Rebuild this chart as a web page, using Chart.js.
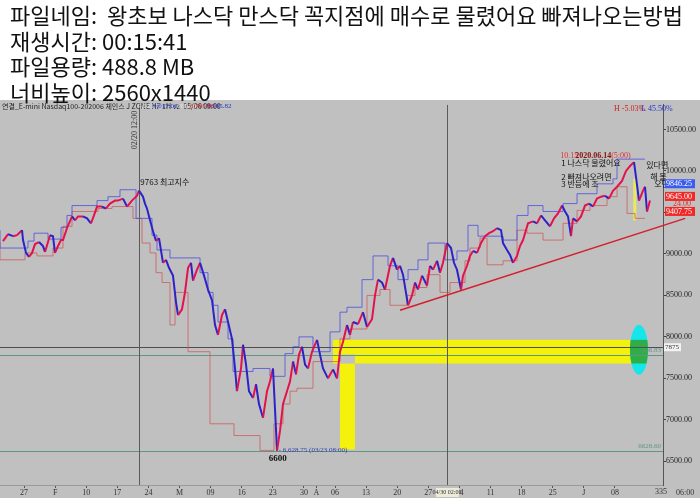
<!DOCTYPE html>
<html>
<head>
<meta charset="utf-8">
<script src="https://cdn.jsdelivr.net/npm/chart.js@4.4.1/dist/chart.umd.min.js"></script>
<style>
  html, body { margin: 0; padding: 0; background: #fff; }
  body { width: 700px; height: 501px; position: relative; overflow: hidden; }
  #info { position: absolute; left: 10px; top: 2px; z-index: 2; font-family: "Noto Sans CJK KR", sans-serif; font-size: 22px;
          line-height: 25.7px; color: #111; white-space: nowrap; }
  #wrap { position: absolute; left: 0; top: 100px; width: 700px; height: 398px; background: #c0c0c0; }
</style>
</head>
<body>
<div id="info">
  <div>파일네임:&nbsp; 왕초보 나스닥 만스닥 꼭지점에 매수로 물렸어요 빠져나오는방법</div>
  <div>재생시간: 00:15:41</div>
  <div>파일용량: 488.8 MB</div>
  <div>너비높이: 2560x1440</div>
</div>
<div id="wrap"><canvas id="chart"></canvas></div>
<script>
// trading days counted from Mon 27 Jan 2020 (1H chart)
const tradingDay = [-3.38,-2.57,-1.77,-1.13,-0.32,-0.16,0.32,0.80,1.29,1.77,
  2.41,3.05,3.38,4.18,4.66,4.98,5.47,5.95,6.27,6.91,
  7.72,8.20,8.68,9.49,10.13,10.77,11.25,11.74,12.54,13.18,
  13.83,14.63,15.11,15.92,16.56,17.36,18.17,18.49,19.13,19.45,
  19.77,20.26,20.74,21.22,21.70,22.35,22.83,23.31,23.95,24.44,
  24.76,25.40,25.88,26.37,26.85,27.17,27.81,28.30,28.94,29.58,
  30.23,30.71,31.19,31.83,32.32,32.80,33.44,33.92,34.24,34.89,
  35.21,35.69,36.17,36.82,37.30,37.78,38.42,39.07,39.55,40.03,
  40.68,41.16,41.64,42.28,42.77,43.25,43.73,44.21,44.69,45.18,
  45.66,46.30,47.11,47.59,48.07,48.87,49.68,50.32,50.80,51.29,
  51.93,52.41,52.89,53.70,54.50,55.14,55.95,56.43,56.91,57.56,
  58.04,58.84,59.32,59.97,60.45,60.93,61.74,62.38,62.86,63.34,
  63.99,64.79,65.27,65.76,66.40,66.88,67.36,68.01,68.65,69.13,
  69.61,70.26,70.58,71.22,71.70,72.19,72.83,73.47,74.12,74.76,
  75.40,76.05,76.69,77.01,77.65,78.14,78.62,79.26,79.74,80.23,
  81.03,81.83,82.48,83.12,83.76,84.57,85.21,85.85,86.50,86.98,
  87.46,87.94,88.26,88.91,89.55,90.19,90.84,91.48,92.12,92.77,
  93.41,94.05,94.69,95.34,96.14,96.78,97.43,98.07,98.39,98.87,
  99.52,99.84,100.16,100.64];
const price = [9155,9238,9214,9226,9286,9167,9012,8964,9012,9119,
  9143,9095,9024,9226,9214,9012,9095,9167,9167,9310,
  9452,9405,9452,9452,9429,9369,9464,9571,9571,9548,
  9607,9643,9643,9667,9571,9643,9702,9763,9690,9607,
  9548,9405,9274,9155,9190,8893,8929,8833,8738,8417,
  8262,8333,8536,8833,8893,8679,8810,8893,8738,8571,
  8440,8143,8024,8262,8333,8179,7976,7619,7345,7619,
  7905,7667,7345,7262,7429,7190,7024,7345,7464,7619,
  6628.75,6869,7190,7345,7464,7702,7548,7786,7881,7667,
  7619,7821,7964,7786,7619,7500,7607,7500,7821,7940,
  8143,8024,8179,8155,8298,8119,8214,8500,8690,8655,
  8571,8857,8952,8810,8857,8750,8381,8500,8655,8571,
  8738,8619,8857,8810,8917,8774,8893,9131,9071,8893,
  8810,8571,8738,8857,8976,9036,9012,9131,9214,9250,
  9274,9310,9286,9131,9048,8988,8893,8976,9095,9167,
  9369,9393,9369,9464,9405,9333,9429,9488,9583,9512,
  9452,9214,9429,9393,9452,9583,9607,9571,9667,9690,
  9702,9667,9762,9810,9881,10000,10060,10107,9929,9643,
  9762,9810,9512,9643];

// step channel above / below price
const upperDay = [-3.86,0.64,1.61,3.86,5.95,6.91,7.72,11.74,13.50,15.43,18.01,20.58,21.38,23.47,28.30,29.58,30.39,31.19,32.80,33.60,
  36.82,39.55,41.96,43.25,44.21,46.46,49.20,50.80,51.93,54.34,56.11,58.52,60.13,61.74,63.34,64.95,67.68,69.61,71.38,72.99,
  77.01,79.26,81.03,83.44,86.66,88.91,92.12,94.69,95.34,96.30,99.84];
const upperBand = [9286,9071,9155,9250,9179,9321,9464,9583,9643,9690,9774,9429,9226,9048,8952,8774,8536,8381,8179,7976,
  7583,7619,7524,7798,7881,8000,7821,8060,8298,8357,8690,8976,8857,8690,8810,8929,9131,8929,9036,9345,
  9214,9167,9464,9583,9512,9607,9726,9845,9905,10143,10143];
const lowerDay = [-3.86,0.16,2.09,4.66,6.27,7.72,11.90,14.15,17.52,18.97,20.26,21.22,22.19,23.47,24.28,26.37,29.90,33.76,37.94,40.19,
  41.64,42.77,43.89,46.46,50.80,52.41,55.14,57.23,58.84,61.58,62.86,64.79,66.88,68.49,70.90,71.70,73.31,74.44,77.01,79.26,
  80.87,83.44,86.66,88.91,91.00,93.73,95.34,96.95,98.23,99.84];
const lowerBand = [9143,8929,9012,8976,9071,9333,9512,9548,9571,9429,9131,9012,8774,8655,8143,8536,7821,6952,6810,6631,
  6952,7190,7345,7381,7702,7976,8095,8500,8571,8381,8500,8595,8750,8536,8655,8917,9071,9190,8869,8917,
  9286,9250,9167,9369,9524,9583,9690,9810,9488,9429];

// hand-drawn support line and levels
const trendDay = [60.45, 106.3];
const trendPrice = [8321, 9429];
const levelPrice = [7875, 7786.83, 6628.6];
const zoneDay = [49.68, 97.75], zonePrice = [7679, 7964];
const pillarDay = [50.8, 53.2], pillarPrice = [6643, 7679];
const cursorDay = [18.5, 68.0];

// axis
const tickDay = [0,5,10,15,20,25,30,35,40,45,47,50,55,60,65,70,75,80,85,90,95];
const tickLabel = ['27','F','10','17','24','M','09','16','23','30','A','06','13','20','27','04','11','18','25','J','08'];
const priceTicks = [6500,7000,7500,8000,8500,9000,9500,10000,10500];

const UP = '#e3124e', DOWN = '#2c22c8';
const SERIF = '"Liberation Serif", serif';
const KR = '"Noto Sans CJK KR", sans-serif';

function pts(xs, ys) { return xs.map((v, i) => ({ x: v, y: ys[i] })); }

const marks = {
  id: 'marks',
  beforeDatasetsDraw(chart) {
    const { ctx, chartArea: a, scales: { x, y } } = chart;
    const X = v => x.getPixelForValue(v), Y = v => y.getPixelForValue(v);
    ctx.save();
    ctx.beginPath(); ctx.rect(a.left, a.top, a.right - a.left, a.bottom - a.top); ctx.clip();
    // yellow zone + pillar
    ctx.fillStyle = '#f4f20c';
    ctx.fillRect(X(zoneDay[0]), Y(zonePrice[1]), X(zoneDay[1]) - X(zoneDay[0]), Y(zonePrice[0]) - Y(zonePrice[1]));
    ctx.fillRect(X(pillarDay[0]), Y(pillarPrice[1]), X(pillarDay[1]) - X(pillarDay[0]), Y(pillarPrice[0]) - Y(pillarPrice[1]));
    ctx.fillStyle = '#c0c0c0';
    ctx.fillRect(X(pillarDay[0]), Y(levelPrice[1]), X(pillarDay[1]) - X(pillarDay[0]), Y(zonePrice[0]) - Y(levelPrice[1]));
    // cyan ellipse at zone end, green where it meets the zone
    const ex = X(98.87), ey = Y(7845);
    ctx.beginPath(); ctx.ellipse(ex, ey, 9, 25, 0, 0, Math.PI * 2);
    ctx.fillStyle = '#14e6ec'; ctx.fill();
    ctx.save(); ctx.clip();
    ctx.fillStyle = '#2fae48';
    ctx.fillRect(ex - 10, Y(zonePrice[1]), 20, Y(zonePrice[0]) - Y(zonePrice[1]));
    ctx.restore();
    // horizontal levels
    const lc = ['#4e4e4e', '#5f9684', '#5f9684'];
    levelPrice.forEach((p, i) => {
      ctx.strokeStyle = lc[i]; ctx.lineWidth = 1;
      ctx.beginPath(); ctx.moveTo(a.left, Math.round(Y(p)) + 0.5); ctx.lineTo(a.right, Math.round(Y(p)) + 0.5); ctx.stroke();
    });
    // cursor lines
    ctx.strokeStyle = '#5a5a5a';
    cursorDay.forEach(d => {
      ctx.beginPath(); ctx.moveTo(Math.round(X(d)) + 0.5, a.top); ctx.lineTo(Math.round(X(d)) + 0.5, a.bottom); ctx.stroke();
    });
    // thin yellow marker near the top
    ctx.fillStyle = '#eaea58';
    ctx.fillRect(X(98.2) - 1.5, Y(9905), 3, Y(9405) - Y(9905));
    ctx.restore();
  },
  afterDraw(chart) {
    const { ctx, chartArea: a, scales: { x, y } } = chart;
    const X = v => x.getPixelForValue(v), Y = v => y.getPixelForValue(v);
    ctx.save();
    ctx.textBaseline = 'middle';
    // header strip
    ctx.font = '7px ' + KR; ctx.fillStyle = '#222'; ctx.textAlign = 'left';
    ctx.fillText('연결_E-mini Nasdaq100-202006 체인스 J ZONE HF 1H v2  05/06 09:00', 2, 6);
    ctx.font = '7px ' + SERIF;
    ctx.fillStyle = '#e4e4e4'; ctx.fillText('9,021.75', 138, 6); ctx.fillText('8,785.00', 172, 6);
    ctx.fillStyle = '#2233cc'; ctx.fillText('9,017.00', 153, 6); ctx.fillText('8,985.82', 207, 6);
    ctx.fillStyle = '#d02020'; ctx.fillText('8,795.00', 190, 6);
    ctx.font = '8px ' + SERIF;
    ctx.fillStyle = '#d02020'; ctx.fillText('H -5.03%', 614, 9);
    ctx.fillStyle = '#2233cc'; ctx.fillText('L 45.50%', 641, 9);
    // rotated cursor time
    ctx.save(); ctx.translate(X(cursorDay[0]) - 4, 30); ctx.rotate(-Math.PI / 2);
    ctx.font = '8px ' + SERIF; ctx.fillStyle = '#333'; ctx.textAlign = 'center';
    ctx.fillText('02/20 12:00', 0, 0); ctx.restore();
    // peak / low notes
    ctx.font = '8px ' + KR; ctx.fillStyle = '#111'; ctx.textAlign = 'left';
    ctx.fillText('9763 최고지수', X(18.7), Y(9870));
    ctx.font = 'bold 9px ' + SERIF; ctx.textAlign = 'center';
    ctx.fillText('6600', X(40.8), Y(6535));
    ctx.font = '7px ' + SERIF; ctx.fillStyle = '#3540b0'; ctx.textAlign = 'left';
    ctx.fillText('- 6,628.75 (03/23 08:00)', X(40.95), Y(6628.75));
    // level captions
    ctx.textAlign = 'right'; ctx.fillStyle = '#5f9684';
    ctx.fillText('7786.83', a.right - 2, Y(7786.83) - 4);
    ctx.fillText('6628.60', a.right - 2, Y(6628.6) - 4);
    ctx.textAlign = 'left'; ctx.fillStyle = '#f2f2f2';
    ctx.fillRect(a.right + 1, Y(7875) - 4, 17, 8);
    ctx.fillStyle = '#333'; ctx.fillText('7875', a.right + 2, Y(7875));
    // top-right note
    const nx = X(86.2), ny = Y(10179);
    ctx.font = '8px ' + SERIF; ctx.fillStyle = '#e03030'; ctx.fillText('10.15', nx, ny);
    ctx.font = 'bold 8px ' + SERIF; ctx.fillStyle = '#8a1010'; ctx.fillText('2020.06.14', nx + 15, ny);
    ctx.font = '8px ' + SERIF; ctx.fillStyle = '#e03030'; ctx.fillText('(5:00)', nx + 51, ny);
    ctx.font = '8px ' + KR; ctx.fillStyle = '#111';
    ctx.fillText('1 나스닥 물렸어요', nx + 1, ny + 7);
    ctx.fillText('있다면', nx + 86, ny + 9);
    ctx.fillText('2 빠져나오려면', nx + 1, ny + 21);
    ctx.fillText('해 볼', nx + 90, ny + 21);
    ctx.fillText('3 반등에 조', nx + 1, ny + 28);
    ctx.fillText('오면', nx + 94, ny + 28);
    // price flags on the axis
    const fx = a.right + 2;
    function flag(txt, cy, bg) {
      ctx.fillStyle = bg; ctx.fillRect(fx, cy - 4.5, 30, 9);
      ctx.fillStyle = '#fff'; ctx.fillText(txt, fx + 1, cy);
    }
    ctx.font = '8px ' + SERIF; ctx.textAlign = 'left';
    flag('9846.25', Y(9846.25), '#3a5cf0');
    const c2 = Y(9645) - 4;
    flag('9645.00', c2, '#f02828');
    ctx.fillStyle = '#e03030'; ctx.fillText('24.00', fx + 8, c2 + 7);
    flag('9407.75', c2 + 15, '#f02828');
    // bottom corner + cursor date
    ctx.fillStyle = '#333'; ctx.font = '8px ' + SERIF; ctx.textAlign = 'center';
    ctx.fillText('335', a.right - 2, a.bottom + 7);
    ctx.textAlign = 'left';
    ctx.fillText('06:00', a.right + 13, a.bottom + 8);
    ctx.fillStyle = '#ecebd8'; ctx.fillRect(X(cursorDay[1]) - 11, a.bottom + 3, 23, 9);
    ctx.fillStyle = '#333'; ctx.font = '6px ' + SERIF; ctx.textAlign = 'center';
    ctx.fillText('04/30 02:00', X(cursorDay[1]), a.bottom + 7.5);
    ctx.restore();
  }
};

new Chart(document.getElementById('chart'), {
  type: 'line',
  data: {
    datasets: [
      {
        label: 'Nasdaq100 1H',
        data: pts(tradingDay, price),
        borderWidth: 2,
        borderColor: UP,
        segment: { borderColor: c => c.p1.parsed.y >= c.p0.parsed.y ? UP : DOWN },
        pointRadius: 0
      },
      {
        label: 'upper',
        data: pts(upperDay, upperBand),
        stepped: 'after',
        borderWidth: 1,
        borderColor: 'rgba(70,70,225,0.75)',
        pointRadius: 0
      },
      {
        label: 'lower',
        data: pts(lowerDay, lowerBand),
        stepped: 'after',
        borderWidth: 1,
        borderColor: 'rgba(205,85,85,0.75)',
        pointRadius: 0
      },
      {
        label: 'trend',
        data: pts(trendDay, trendPrice),
        borderWidth: 1.5,
        borderColor: '#d41f2a',
        pointRadius: 0,
        clip: { left: 0, top: 0, right: 30, bottom: 0 }
      }
    ]
  },
  options: {
    responsive: true,
    maintainAspectRatio: false,
    animation: false,
    layout: { padding: 0 },
    plugins: { legend: { display: false }, tooltip: { enabled: false } },
    scales: {
      x: {
        type: 'linear',
        min: -3.86,
        max: 102.73,
        afterBuildTicks: s => { s.ticks = tickDay.map(v => ({ value: v })); },
        afterFit: s => { s.height = 13; },
        ticks: {
          autoSkip: false, maxRotation: 0, padding: 0,
          callback: (v, i) => tickLabel[i],
          font: { family: SERIF, size: 8 }, color: '#333'
        },
        grid: { drawOnChartArea: false, tickLength: 3, color: '#555' },
        border: { color: '#9a9a9a' }
      },
      y: {
        position: 'right',
        min: 6214,
        max: 10798,
        afterBuildTicks: s => { s.ticks = priceTicks.map(v => ({ value: v })); },
        afterFit: s => { s.width = 37; },
        ticks: {
          padding: 0,
          callback: v => v.toFixed(2),
          font: { family: SERIF, size: 8 }, color: '#222'
        },
        grid: { drawOnChartArea: false, tickLength: 3, color: '#444' },
        border: { color: '#555', dash: [2, 2] }
      }
    }
  },
  plugins: [marks]
});
</script>
</body>
</html>
